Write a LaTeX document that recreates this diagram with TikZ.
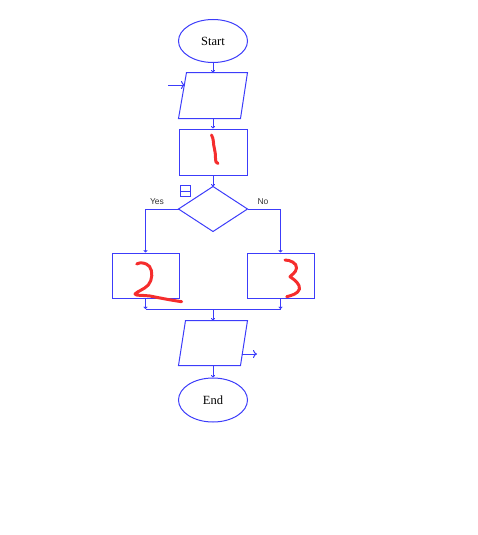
\documentclass[tikz,border=0pt]{standalone}
\usepackage{fontspec}
\setmainfont{Liberation Serif}
\newfontfamily\labfont{Liberation Sans}
\usetikzlibrary{shapes.geometric,arrows.meta,calc}
\definecolor{fcblue}{RGB}{60,60,250}
\definecolor{scrib}{RGB}{245,45,45}
\definecolor{labgray}{RGB}{50,50,50}
\begin{document}
\begin{tikzpicture}[x=1pt,y=-1pt,
  line width=1pt,
  term/.style={ellipse,draw=fcblue,line width=1pt,minimum width=69pt,minimum height=43pt,inner sep=0pt,font=\fontsize{12.5}{14}\selectfont},
  boxnode/.style={rectangle,draw=fcblue,line width=1pt,minimum width=68pt,minimum height=46pt,inner sep=0pt},
  ghost/.style={rectangle,minimum width=68pt,minimum height=45pt,inner sep=0pt},
  conn/.style={draw=fcblue,line width=1pt,-{To[length=2.5pt,width=4pt]}},
  plain/.style={draw=fcblue,line width=1pt},
  ioarrow/.style={draw=fcblue,line width=1pt,-{To[length=4pt,width=8pt]}},
  lab/.style={font=\labfont\fontsize{8.5}{10}\selectfont,text=labgray,inner sep=0pt},
  pen/.style={draw=scrib,line width=3pt,line cap=round,line join=round}
]
\useasboundingbox (0,0) rectangle (478,535);

% nodes
\node[term] (start) at (213,41) {Start};
\node[ghost] (in1) at (213,95.5) {};
\node[boxnode] (p1) at (213,152) {};
\node[ghost,minimum height=44pt] (dec) at (213,209) {};
\node[boxnode,minimum width=67pt,minimum height=45pt] (p2) at (145.5,275.5) {};
\node[boxnode,minimum width=67pt,minimum height=45pt] (p3) at (280.5,275.5) {};
\node[ghost,minimum height=44pt] (out1) at (213,343) {};
\node[term,minimum height=44pt] (end) at (213,400) {End};

% shapes drawn from the ghost nodes
\draw[fcblue] ($(in1.north west)+(8,0)$) -- (in1.north east) -- ($(in1.south east)-(7,0)$) -- (in1.south west) -- cycle;
\draw[fcblue] ($(out1.north west)+(7,0)$) -- (out1.north east) -- ($(out1.south east)-(7,0)$) -- (out1.south west) -- cycle;
\draw[fcblue] (dec.north) -- (dec.east) -- (dec.south) -- (dec.west) -- cycle;

% small icon near decision
\node[rectangle,draw=fcblue,line width=1pt,minimum width=10pt,minimum height=11pt,inner sep=0pt] (icon) at (185.5,191) {};
\draw[fcblue,line width=1pt] (icon.west) -- (icon.east);

% io arrows
\coordinate (inSrc) at (168,85);
\coordinate (inDst) at (185,85);
\draw[ioarrow] (inSrc) -- (inDst);
\coordinate (outSrc) at (241.5,354);
\coordinate (outDst) at (257,354);
\draw[ioarrow] (outSrc) -- (outDst);

% connectors
\draw[conn] (start) -- (in1.north);
\draw[conn] (in1.south) -- (p1.north);
\draw[conn] (p1.south) -- (dec.north);
\draw[conn] (dec.west) -| (p2.north);
\draw[conn] (dec.east) -| (p3.north);
\coordinate (m) at (213,309);
\draw[conn] (p2.south) -- (p2.south |- m);
\draw[conn] (p3.south) -- (p3.south |- m);
\draw[plain] (p2.south |- m) -- (p3.south |- m);
\draw[conn] (m) -- (out1.north);
\draw[conn] (out1.south) -- (end);

% labels
\node[lab] (yes) at (157,201.5) {Yes};
\node[lab] (no) at (263,201.5) {No};

% red handwriting
\draw[pen] (211.5,135) .. controls (214,139) and (213,144) .. (214.5,149)
  .. controls (216,155) and (215,159) .. (216,162) -- (218,163.5);
\draw[pen] (136.7,264) .. controls (140,262) and (146,262.5) .. (149.5,266.5)
  .. controls (153,271) and (152.5,280) .. (148.3,285)
  .. controls (144,289.5) and (137,291.5) .. (135,294)
  .. controls (136,296) and (143,295) .. (150,296)
  .. controls (160,298) and (170,300) .. (181.7,301.7);
\draw[pen] (285,260) .. controls (290,260) and (297,263) .. (296.5,268)
  .. controls (296,273) and (291,275) .. (290,276.7)
  .. controls (295,280) and (300,284) .. (299.5,289)
  .. controls (298,294) and (291,295.5) .. (286.7,296.7);
\end{tikzpicture}
\end{document}
